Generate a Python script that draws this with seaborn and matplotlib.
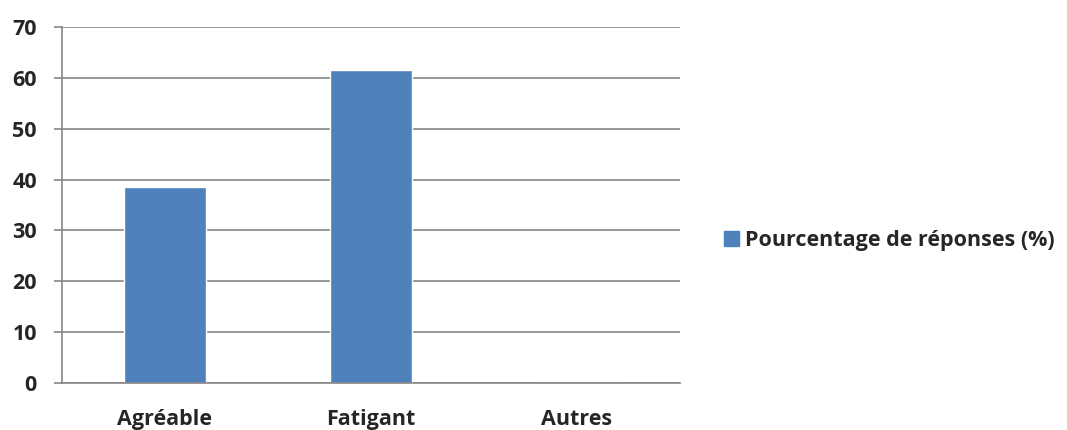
import numpy as np
import matplotlib
matplotlib.use("Agg")
import matplotlib.pyplot as plt
import seaborn as sns
from matplotlib.patches import Patch

# data
categories = ["Agréable", "Fatigant", "Autres"]
values = [38.5, 61.5, 0]
series_name = "Pourcentage de réponses (%)"
y_ticks = [0, 10, 20, 30, 40, 50, 60, 70]

bar_color = "#4F81BD"
grid_color = "#868686"
fsize = 15.5

sns.set_style("white")
plt.rcParams["font.family"] = ["Open Sans", "DejaVu Sans"]
plt.rcParams["font.weight"] = "bold"

fig = plt.figure(figsize=(10.67, 4.3), dpi=100)
ax = fig.add_axes([0.0581, 0.1093, 0.5792, 0.8279])

sns.barplot(x=categories, y=values, color=bar_color, width=0.4, saturation=1, ax=ax)

ax.set_xlim(-0.5, 2.5)
ax.set_ylim(0, 70)
ax.set_yticks(y_ticks)
ax.set_xlabel("")
ax.set_ylabel("")

# horizontal gridlines like Excel
ax.yaxis.grid(True, color=grid_color, linewidth=1.2)
ax.set_axisbelow(True)
for side in ["top", "right"]:
    ax.spines[side].set_visible(False)
for side in ["left", "bottom"]:
    ax.spines[side].set_color(grid_color)
    ax.spines[side].set_linewidth(1.2)

# category boundary ticks
ax.set_xticks([-0.5, 0.5, 1.5, 2.5], minor=True)
ax.tick_params(axis="x", which="minor", length=6, color=grid_color, width=1.2, direction="out")
ax.tick_params(axis="x", which="major", length=0, pad=19, labelsize=fsize)
ax.tick_params(axis="y", length=6, color=grid_color, width=1.2, direction="out", pad=12, labelsize=fsize, left=True)
for lab in ax.get_xticklabels() + ax.get_yticklabels():
    lab.set_fontweight("bold")

handle = Patch(facecolor=bar_color, edgecolor=bar_color)
fig.legend([handle], [series_name], loc="center left", bbox_to_anchor=(0.66, 0.44),
           frameon=False, handlelength=0.7, handleheight=0.7, handletextpad=0.3,
           prop={"weight": "bold", "size": fsize})

fig.savefig("out.png", dpi=100)
